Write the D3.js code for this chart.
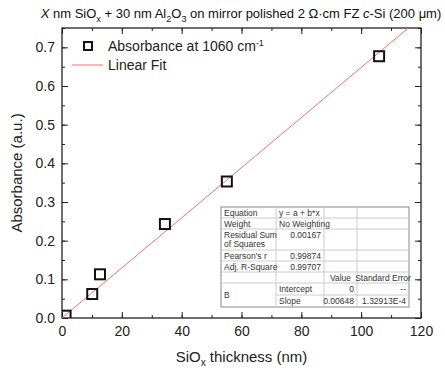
<!DOCTYPE html>
<html>
<head>
<meta charset="utf-8">
<script src="https://cdn.jsdelivr.net/npm/d3@7"></script>
<style>
 body { margin:0; background:#fff; }
 text { font-family: "Liberation Sans", Arial, sans-serif; }
</style>
</head>
<body>
<div id="chart"></div>
<script>
// measured points (thickness nm, absorbance)
var thickness = [1.2, 10.1, 12.7, 34.4, 55.1, 106];
var absorbance = [0.006, 0.062, 0.113, 0.243, 0.353, 0.677];
var fitSlope = 0.00648;
var fitIntercept = 0;
var xTicks = [0, 20, 40, 60, 80, 100, 120];
var yTicks = [0.0, 0.1, 0.2, 0.3, 0.4, 0.5, 0.6, 0.7];

// fit table rows
var tableLabels = ["Equation", "Weight", "Residual Sum|of Squares", "Pearson's r", "Adj. R-Square", "", "B", ""];
var tableCol2 = ["y = a + b*x", "No Weighting", "0.00167", "0.99874", "0.99707", "", "Intercept", "Slope"];
var tableCol3 = ["", "", "", "", "", "Value", "0", "0.00648"];
var tableCol4 = ["", "", "", "", "", "Standard Error", "--", "1.32913E-4"];

var w = 445, h = 370;
var m = {l: 62, r: 24, t: 28, b: 52};
var pw = w - m.l - m.r, ph = h - m.t - m.b;

var svg = d3.select("#chart").append("svg").attr("width", w).attr("height", h);

var x = d3.scaleLinear().domain([0, 120]).range([m.l, m.l + pw]);
var y = d3.scaleLinear().domain([0, 0.75]).range([m.t + ph, m.t]);

var minorX = d3.range(0, 121, 10), minorY = d3.range(0, 0.751, 0.05);

function drawAxis(axisFn, scale, transform, ticks, minor, labels, pad) {
  var g = svg.append("g").attr("transform", transform);
  g.call(axisFn(scale).tickValues(minor).tickSize(-3).tickFormat(""));
  var g2 = svg.append("g").attr("transform", transform);
  g2.call(axisFn(scale).tickValues(ticks).tickSize(-6).tickPadding(pad)
    .tickFormat(labels ? labels : ""));
  g.select(".domain").remove();
  g2.select(".domain").remove();
  g2.selectAll("text").attr("font-size", 14).attr("fill", "#222")
    .attr("font-family", "Liberation Sans, Arial, sans-serif");
  g.selectAll("line").attr("stroke", "#222");
  g2.selectAll("line").attr("stroke", "#222");
}

drawAxis(d3.axisBottom, x, "translate(0," + (m.t + ph) + ")", xTicks, minorX, d3.format("d"), 8);
drawAxis(d3.axisTop, x, "translate(0," + m.t + ")", xTicks, minorX, null, 8);
drawAxis(d3.axisLeft, y, "translate(" + m.l + ",0)", yTicks, minorY, d3.format(".1f"), 7);
drawAxis(d3.axisRight, y, "translate(" + (m.l + pw) + ",0)", yTicks, minorY, null, 7);

// frame
svg.append("rect").attr("x", m.l).attr("y", m.t).attr("width", pw).attr("height", ph)
  .attr("fill", "none").attr("stroke", "#222").attr("stroke-width", 1.3);

svg.append("clipPath").attr("id", "clip").append("rect")
  .attr("x", m.l).attr("y", m.t).attr("width", pw).attr("height", ph);

var plot = svg.append("g").attr("clip-path", "url(#clip)");

// linear fit
var xEnd = (0.75 - fitIntercept) / fitSlope;
plot.append("line")
  .attr("x1", x(0)).attr("y1", y(fitIntercept))
  .attr("x2", x(xEnd)).attr("y2", y(fitIntercept + fitSlope * xEnd))
  .attr("stroke", "#f07070").attr("stroke-width", 1);

var pts = thickness.map(function(t, i) { return {x: t, y: absorbance[i]}; });
plot.selectAll("rect.pt").data(pts).enter().append("rect")
  .attr("class", "pt")
  .attr("x", function(d) { return x(d.x) - 5; })
  .attr("y", function(d) { return y(d.y) - 5; })
  .attr("width", 10).attr("height", 10)
  .attr("fill", "none").attr("stroke", "#111").attr("stroke-width", 2);

// legend
svg.append("rect").attr("x", 84).attr("y", 42).attr("width", 8).attr("height", 8)
  .attr("fill", "none").attr("stroke", "#111").attr("stroke-width", 2);
var lt = svg.append("text").attr("x", 108).attr("y", 51).attr("font-size", 14).attr("fill", "#222");
lt.append("tspan").text("Absorbance at 1060 cm");
lt.append("tspan").attr("dy", -5).attr("font-size", 9).text("-1");
svg.append("line").attr("x1", 72).attr("x2", 103).attr("y1", 65).attr("y2", 65)
  .attr("stroke", "#f07070").attr("stroke-width", 1);
svg.append("text").attr("x", 108).attr("y", 70).attr("font-size", 14).attr("fill", "#222").text("Linear Fit");

// title
var title = svg.append("text").attr("x", 241).attr("y", 18).attr("text-anchor", "middle")
  .attr("font-size", 13).attr("fill", "#111");
title.append("tspan").attr("font-style", "italic").text("X");
title.append("tspan").text(" nm SiO");
title.append("tspan").attr("font-size", 9).attr("dy", 4).text("x");
title.append("tspan").attr("dy", -4).text(" + 30 nm Al");
title.append("tspan").attr("font-size", 9).attr("dy", 4).text("2");
title.append("tspan").attr("dy", -4).text("O");
title.append("tspan").attr("font-size", 9).attr("dy", 4).text("3");
title.append("tspan").attr("dy", -4).text(" on mirror polished 2 \u03A9\u00B7cm FZ ");
title.append("tspan").attr("font-style", "italic").text("c");
title.append("tspan").text("-Si (200 \u03BCm)");

// axis titles
var xt = svg.append("text").attr("x", x(60)).attr("y", 362).attr("text-anchor", "middle")
  .attr("font-size", 15).attr("fill", "#222");
xt.append("tspan").text("SiO");
xt.append("tspan").attr("font-size", 10).attr("dy", 4).text("x");
xt.append("tspan").attr("dy", -4).text(" thickness (nm)");

svg.append("text").attr("transform", "translate(22," + y(0.375) + ") rotate(-90)")
  .attr("text-anchor", "middle").attr("font-size", 15).attr("fill", "#222")
  .text("Absorbance (a.u.)");

// fit table
var colX = [221, 276, 324, 357, 409];
var rowY = [207, 218, 229, 250, 261, 272, 283, 295, 307];
var tbl = svg.append("g");
tbl.append("rect").attr("x", colX[0]).attr("y", rowY[0])
  .attr("width", colX[4] - colX[0]).attr("height", rowY[8] - rowY[0])
  .attr("fill", "#fff").attr("stroke", "#888").attr("stroke-width", 1);
// horizontal lines
rowY.slice(1, 8).forEach(function(ry, i) {
  var x0 = (i + 1 == 7) ? colX[1] : colX[0];
  tbl.append("line").attr("x1", x0).attr("x2", colX[4]).attr("y1", ry).attr("y2", ry)
    .attr("stroke", "#ccc");
});
colX.slice(1, 4).forEach(function(cx) {
  tbl.append("line").attr("x1", cx).attr("x2", cx).attr("y1", rowY[0]).attr("y2", rowY[8])
    .attr("stroke", "#ccc");
});

function cellText(txt, x0, x1, r0, r1, align, top) {
  if (!txt) return;
  var lines = txt.split("|");
  var cy = top ? rowY[r0] + 8.5 : (rowY[r0] + rowY[r1]) / 2 - (lines.length - 1) * 4.5 + 3;
  var tx = align == "end" ? x1 - 3 : align == "middle" ? (x0 + x1) / 2 : x0 + 3;
  lines.forEach(function(l, k) {
    tbl.append("text").attr("x", tx).attr("y", cy + k * 9).attr("text-anchor", align)
      .attr("font-size", 8.5).attr("fill", "#333").text(l);
  });
}

tableLabels.forEach(function(t, i) {
  if (t == "B") cellText(t, colX[0], colX[1], i, i + 2, "start");
  else cellText(t, colX[0], colX[1], i, i + 1, "start");
});
tableCol2.forEach(function(t, i) {
  var isNum = !isNaN(parseFloat(t));
  cellText(t, colX[1], colX[2], i, i + 1, isNum ? "end" : "start", i == 2);
});
tableCol3.forEach(function(t, i) {
  cellText(t, colX[2], colX[3], i, i + 1, t == "Value" ? "middle" : "end");
});
tableCol4.forEach(function(t, i) {
  cellText(t, colX[3], colX[4], i, i + 1, t == "Standard Error" ? "middle" : "end");
});
</script>
</body>
</html>
